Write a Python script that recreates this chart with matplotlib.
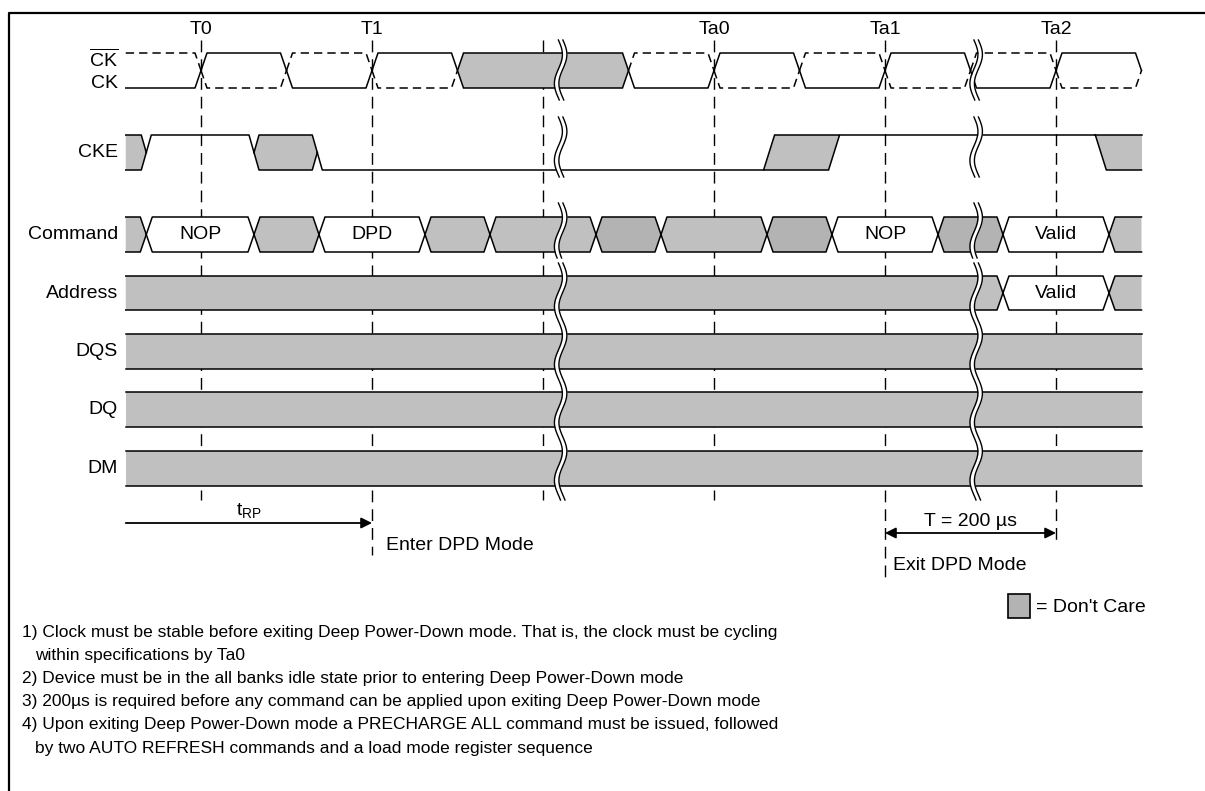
import numpy as np
import matplotlib.pyplot as plt
from matplotlib.patches import Polygon, Rectangle

plt.rcParams['font.family'] = ['Liberation Sans', 'DejaVu Sans']
plt.rcParams['mathtext.fontset'] = 'custom'
plt.rcParams['mathtext.rm'] = 'Liberation Sans'
plt.rcParams['mathtext.it'] = 'Liberation Sans'
plt.rcParams['lines.scale_dashes'] = False

# ---- timing data (x in clock cycles, T0 = 0) ----
clock_names = ['T0', 'T1', 'Ta0', 'Ta1', 'Ta2']
clock_times = [0, 1, 3, 4, 5]
marker_times = [0, 1, 2, 3, 4, 5]
break_times = [2.09, 4.52]
t_begin, t_end = -0.44, 5.5

# CK edges and the CK level after each edge (None = don't care)
ck_edges = [0, 0.5, 1, 1.5, 2.5, 3, 3.5, 4, 4.5, 5]
ck_after = [1, 0, 1, None, 0, 1, 0, 1, 0, 1]
ck_first = 0

# CKE: x = don't care, h/l = level, r = rise window, f = fall to don't care
cke_times = [-0.44, -0.32, 0.31, 0.68, 3.29, 3.67, 5.23, 5.5]
cke_states = ['x', 'h', 'x', 'l', 'r', 'h', 'f']

cmd_times = [-0.44, -0.32, 0.31, 0.69, 1.31, 1.69, 2.31, 2.69, 3.31, 3.69, 4.31, 4.69, 5.31, 5.5]
cmd_states = ['x', 'v', 'x', 'v', 'x', 'x', 'd', 'x', 'd', 'v', 'd', 'v', 'x']
cmd_labels = ['', 'NOP', '', 'DPD', '', '', '', '', '', 'NOP', '', 'Valid', '']

addr_times = [-0.44, 4.69, 5.31, 5.5]
addr_states = ['x', 'v', 'x']
addr_labels = ['', 'Valid', '']

dont_care_rows = ['DQS', 'DQ', 'DM']

t_rp = (-0.44, 1)
t_exit = (4, 5)

notes = [
    '1) Clock must be stable before exiting Deep Power-Down mode. That is, the clock must be cycling',
    'within specifications by Ta0',
    '2) Device must be in the all banks idle state prior to entering Deep Power-Down mode',
    '3) 200\u00b5s is required before any command can be applied upon exiting Deep Power-Down mode',
    '4) Upon exiting Deep Power-Down mode a PRECHARGE ALL command must be issued, followed',
    'by two AUTO REFRESH commands and a load mode register sequence',
]
note_indent = [False, True, False, False, False, True]

# ---- layout (pixels) ----
W, H = 1205, 791
X0, CYC = 201, 171
rows = {'CK': (53, 88), 'CKE': (135, 170), 'Command': (217, 252), 'Address': (276, 310),
        'DQS': (334, 369), 'DQ': (392, 427), 'DM': (451, 486)}
marker_bottom = [500, 555, 500, 500, 578, 545]
break_spans = [(40, 100), (117, 177), (203, 258), (263, 500)]

GREY = '#c0c0c0'
DARK = '#b3b3b3'
fills = {'x': GREY, 'd': DARK, 'v': 'white'}
LW = 1.1
FS = 14


def tx(px):
    return (px - X0) / CYC


fig = plt.figure(figsize=(W / 100, H / 100), dpi=100)
ax = fig.add_axes([0, 0, 1, 1])
ax.set_xlim(tx(0), tx(W))
ax.set_ylim(H, 0)
ax.axis('off')

# frame and the title, cut off above the picture
ax.plot([tx(9), tx(9), tx(W)], [H, 13, 13], color='black', lw=1.6, solid_capstyle='butt')
ax.text(tx(10), -5, 'Figure 48: Deep Power-Down Mode Entry and Exit Timing', fontsize=14,
        fontweight='bold', va='baseline', ha='left')

# dashed clock markers
for t, yb in zip(marker_times, marker_bottom):
    ax.plot([t, t], [40, yb], color='black', lw=1.0, ls=(0, (8.5, 5)), zorder=1)
for name, t in zip(clock_names, clock_times):
    ax.text(t, 30, name, fontsize=FS, ha='center', va='center')

# ---- clock ----
s = tx(X0 + 6)
top, bot = rows['CK']
mid = (top + bot) / 2
bounds = [t_begin] + ck_edges + [t_end]
levels = [ck_first] + ck_after
for i, lev in enumerate(levels):
    a, b = bounds[i], bounds[i + 1]
    if lev is None:
        poly = [(a, mid), (a + s, top), (b - s, top), (b, mid), (b - s, bot), (a + s, bot)]
        ax.add_patch(Polygon(poly, closed=True, fc=GREY, ec='black', lw=LW, zorder=3))
        continue
    for y_lev, style in ((top if lev else bot, '-'), (bot if lev else top, (0, (6, 3.6)))):
        xs, ys = [], []
        if i == 0:
            xs += [a]; ys += [y_lev]
        else:
            xs += [a, a + s]; ys += [mid, y_lev]
        xs += [b - s, b]; ys += [y_lev, mid]
        ax.plot(xs, ys, color='black', lw=LW, ls=style, zorder=3)
ax.text(tx(118), 59, r'$\overline{\mathrm{CK}}$', fontsize=FS, ha='right', va='center')
ax.text(tx(118), 83, 'CK', fontsize=FS, ha='right', va='center')

# ---- CKE ----
top, bot = rows['CKE']
mid = (top + bot) / 2
s = tx(X0 + 5)
w = tx(X0 + 11)
for i, st in enumerate(cke_states):
    a, b = cke_times[i], cke_times[i + 1]
    prev = cke_states[i - 1] if i else None
    nxt = cke_states[i + 1] if i + 1 < len(cke_states) else None
    if st in 'hl':
        y = top if st == 'h' else bot
        if prev == 'x':
            pts = [(a, mid), (a + s, y)]
        elif prev == 'r':
            pts = [(a + w, y)]
        else:
            pts = [(a, y)]
        pts += [(b - s, y), (b, mid)] if nxt == 'x' else [(b, y)]
        ax.plot(*zip(*pts), color='black', lw=LW, zorder=3)
    elif st == 'x':
        left = [(a, bot), (a, top)] if prev is None else [(a + s, bot), (a, mid), (a + s, top)]
        right = [(b - s, top), (b, mid), (b - s, bot)]
        ax.add_patch(Polygon(left + right, closed=True, fc=GREY, ec='none', zorder=3))
        up = [(a, top)] if prev is None else [(a, mid), (a + s, top)]
        lo = [(a, bot)] if prev is None else [(a, mid), (a + s, bot)]
        ax.plot(*zip(*(up + [(b - s, top), (b, mid)])), color='black', lw=LW, zorder=3)
        ax.plot(*zip(*(lo + [(b - s, bot), (b, mid)])), color='black', lw=LW, zorder=3)
    elif st == 'r':
        poly = [(a, bot), (a + w, top), (b + w, top), (b, bot)]
        ax.add_patch(Polygon(poly, closed=True, fc=GREY, ec='black', lw=LW, zorder=3))
    elif st == 'f':
        poly = [(a, top), (b, top), (b, bot), (a + w, bot)]
        ax.add_patch(Polygon(poly, closed=True, fc=GREY, ec='none', zorder=3))
        ax.plot([a, b], [top, top], color='black', lw=LW, zorder=3)
        ax.plot([a, a + w, b], [top, bot, bot], color='black', lw=LW, zorder=3)
ax.text(tx(118), mid, 'CKE', fontsize=FS, ha='right', va='center')


# ---- buses ----
def bus(name, times, states, labels):
    top, bot = rows[name]
    mid = (top + bot) / 2
    s = tx(X0 + 6)
    n = len(states)
    for i in range(n):
        a, b = times[i], times[i + 1]
        left = [(a, bot), (a, top)] if i == 0 else [(a + s, bot), (a, mid), (a + s, top)]
        right = [(b, top), (b, bot)] if i == n - 1 else [(b - s, top), (b, mid), (b - s, bot)]
        ax.add_patch(Polygon(left + right, closed=True, fc=fills[states[i]], ec='none', zorder=3))
        up = [(a, top)] if i == 0 else [(a, mid), (a + s, top)]
        lo = [(a, bot)] if i == 0 else [(a, mid), (a + s, bot)]
        up_end = [(b, top)] if i == n - 1 else [(b - s, top), (b, mid)]
        lo_end = [(b, bot)] if i == n - 1 else [(b - s, bot), (b, mid)]
        ax.plot(*zip(*(up + up_end)), color='black', lw=LW, zorder=3)
        ax.plot(*zip(*(lo + lo_end)), color='black', lw=LW, zorder=3)
        if labels[i]:
            ax.text((a + b) / 2, mid, labels[i], fontsize=FS, ha='center', va='center', zorder=4)
    ax.text(tx(118), mid, name, fontsize=FS, ha='right', va='center')


bus('Command', cmd_times, cmd_states, cmd_labels)
bus('Address', addr_times, addr_states, addr_labels)
for name in dont_care_rows:
    bus(name, [t_begin, t_end], ['x'], [''])

# ---- break marks ----
amp, gap = tx(X0 + 4), tx(X0 + 4.5)
for tb in break_times:
    for y0, y1 in break_spans:
        yy = np.linspace(y0, y1, 80)
        xl = tb + amp * np.sin(2 * np.pi * (yy - y0) / 58)
        xr = xl + gap
        ax.fill_betweenx(yy, xl, xr, color='white', lw=0, zorder=5)
        ax.plot(xl, yy, color='black', lw=1.0, zorder=6)
        ax.plot(xr, yy, color='black', lw=1.0, zorder=6)

# ---- timing arrows ----
ax.annotate('', xy=(t_rp[1], 523), xytext=(t_rp[0], 523),
            arrowprops=dict(arrowstyle='-|>', color='black', lw=1.3, mutation_scale=16,
                            shrinkA=0, shrinkB=0))
ax.text(sum(t_rp) / 2, 511, r'$\mathregular{t_{RP}}$', fontsize=FS, ha='center', va='center')
ax.text(t_rp[1] + tx(X0 + 14), 545, 'Enter DPD Mode', fontsize=FS, ha='left', va='center')

ax.annotate('', xy=(t_exit[1], 533), xytext=(t_exit[0], 533),
            arrowprops=dict(arrowstyle='<|-|>', color='black', lw=1.3, mutation_scale=16,
                            shrinkA=0, shrinkB=0))
ax.text(sum(t_exit) / 2, 521, 'T = 200 \u00b5s', fontsize=FS, ha='center', va='center')
ax.text(t_exit[0] + tx(X0 + 8), 565, 'Exit DPD Mode', fontsize=FS, ha='left', va='center')

# legend
ax.add_patch(Rectangle((tx(1008), 594), tx(1030) - tx(1008), 24, fc=DARK, ec='black', lw=1.2))
ax.text(tx(1036), 607, "= Don't Care", fontsize=FS, ha='left', va='center')

# notes
for k, (line, ind) in enumerate(zip(notes, note_indent)):
    ax.text(tx(35 if ind else 22), 632 + 23.2 * k, line, fontsize=12.5,
            family=['Liberation Sans Narrow', 'Liberation Sans'], ha='left', va='center')

fig.savefig('out.png', dpi=100)
